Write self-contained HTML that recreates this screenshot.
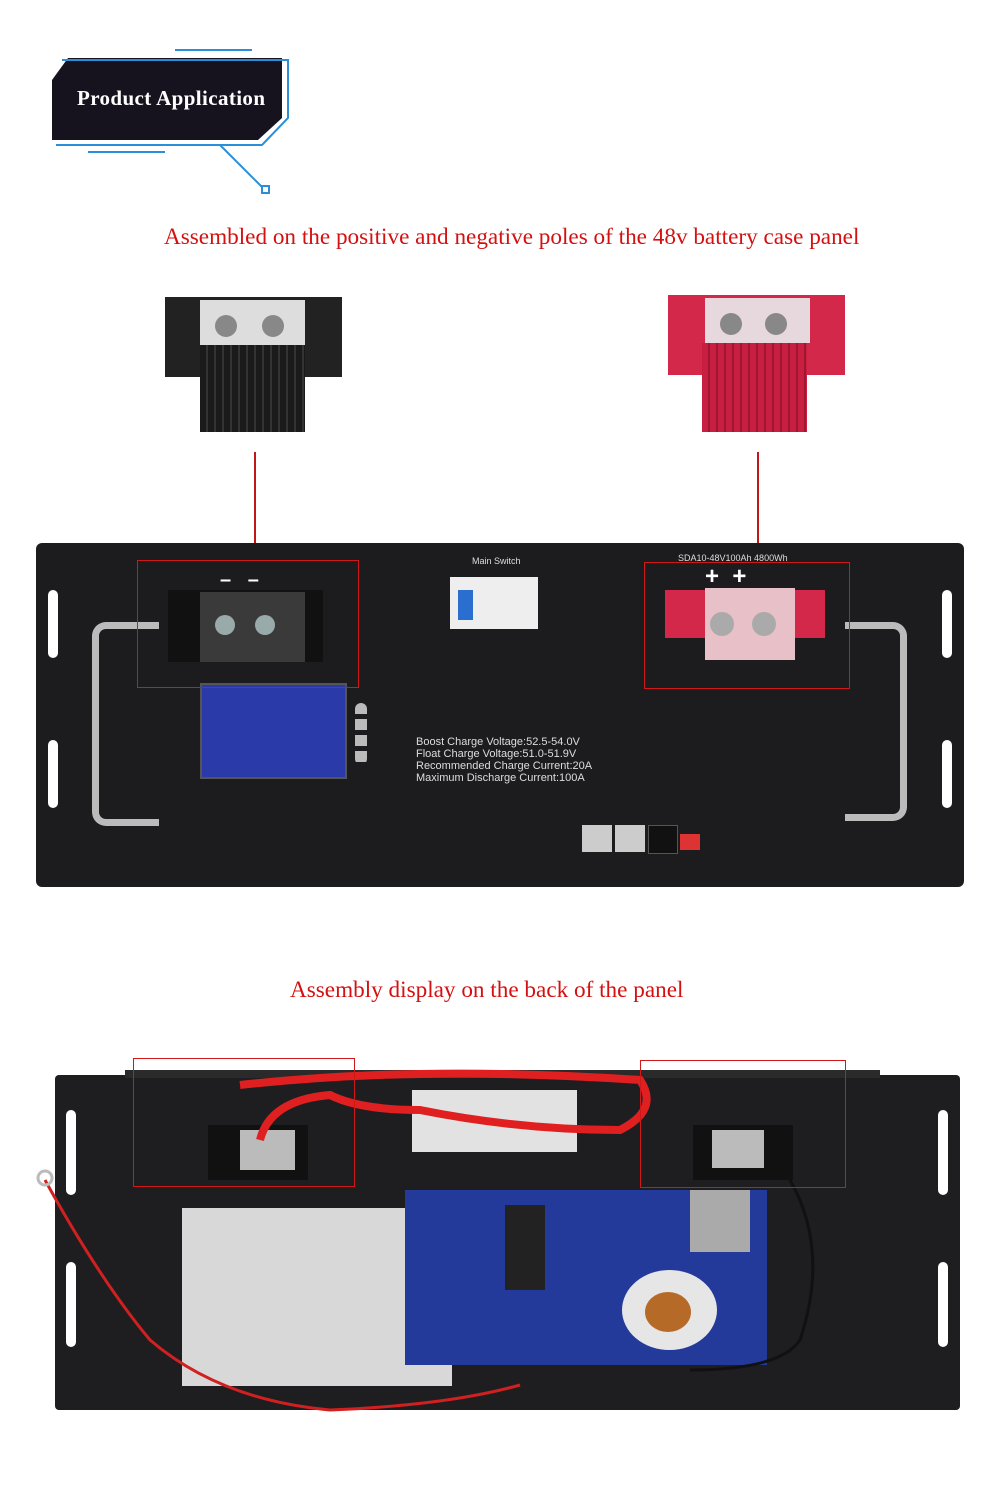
<!DOCTYPE html>
<html><head><meta charset="utf-8"><style>
body{margin:0;width:1000px;height:1500px;background:#fff;position:relative;overflow:hidden;font-family:"Liberation Serif",serif}
.a{position:absolute}
.t{color:#d41010;font-size:23.2px;white-space:nowrap}
.rr{position:absolute;border:1.5px solid #d01818}
.hole{position:absolute;width:9px;height:9px;border-radius:50%;background:#fff}
.slot{position:absolute;width:10px;height:68px;border-radius:5px;background:#fff}
</style></head><body>
<svg class="a" style="left:0;top:0" width="320" height="200">
<polygon points="68,58 282,58 282,118 258,140 52,140 52,80" fill="#16131f"/>
<polyline points="62,60 278,60 288,60 288,118 262,145 56,145" fill="none" stroke="#2a8fd8" stroke-width="2"/>
<line x1="175" y1="50" x2="252" y2="50" stroke="#2a8fd8" stroke-width="2"/>
<line x1="88" y1="152" x2="165" y2="152" stroke="#2a8fd8" stroke-width="2"/>
<polyline points="220,145 262,187" fill="none" stroke="#2a8fd8" stroke-width="2"/>
<rect x="262" y="186" width="7" height="7" fill="none" stroke="#2a8fd8" stroke-width="2"/>
<text x="77" y="105" fill="#fff" font-family="Liberation Serif" font-size="21" font-weight="bold" textLength="188">Product Application</text>
</svg>
<div class="a t" style="left:164px;top:224px">Assembled on the positive and negative poles of the 48v battery case panel</div>

<!-- black terminal -->
<div class="a" style="left:165px;top:297px;width:177px;height:80px;background:#222"></div>
<div class="a" style="left:200px;top:300px;width:105px;height:45px;background:#ddd"></div>
<div class="a" style="left:215px;top:315px;width:22px;height:22px;border-radius:50%;background:#888"></div>
<div class="a" style="left:262px;top:315px;width:22px;height:22px;border-radius:50%;background:#888"></div>
<div class="a" style="left:200px;top:345px;width:105px;height:87px;background:repeating-linear-gradient(90deg,#1a1a1a 0 6px,#333 6px 8px)"></div>
<!-- red terminal -->
<div class="a" style="left:668px;top:295px;width:177px;height:80px;background:#d3284a"></div>
<div class="a" style="left:705px;top:298px;width:105px;height:45px;background:#e6d8dc"></div>
<div class="a" style="left:720px;top:313px;width:22px;height:22px;border-radius:50%;background:#888"></div>
<div class="a" style="left:765px;top:313px;width:22px;height:22px;border-radius:50%;background:#888"></div>
<div class="a" style="left:702px;top:343px;width:105px;height:89px;background:repeating-linear-gradient(90deg,#c81e40 0 6px,#a01530 6px 8px)"></div>

<div class="a" style="left:254px;top:452px;width:1.5px;height:110px;background:#c01818"></div>
<div class="a" style="left:757px;top:452px;width:1.5px;height:112px;background:#c01818"></div>

<!-- front panel -->
<div class="a" style="left:36px;top:543px;width:928px;height:344px;background:#1c1c1e;border-radius:6px"></div>
<div class="slot" style="left:48px;top:590px"></div><div class="slot" style="left:48px;top:740px"></div>
<div class="slot" style="left:942px;top:590px"></div><div class="slot" style="left:942px;top:740px"></div>
<div class="a" style="left:92px;top:622px;width:60px;height:190px;border:7px solid #bbb;border-right:none;border-radius:14px 0 0 14px"></div>
<div class="a" style="left:845px;top:622px;width:55px;height:185px;border:7px solid #bbb;border-left:none;border-radius:0 14px 14px 0"></div>
<div class="a" style="left:168px;top:590px;width:155px;height:72px;background:#111"></div>
<div class="a" style="left:200px;top:592px;width:105px;height:70px;background:#3a3a3a"></div>
<div class="a" style="left:215px;top:615px;width:20px;height:20px;border-radius:50%;background:#9aa"></div>
<div class="a" style="left:255px;top:615px;width:20px;height:20px;border-radius:50%;background:#9aa"></div>
<div class="a" style="left:200px;top:683px;width:143px;height:92px;background:#2a3aa8;border:2px solid #555"></div>
<div class="a" style="left:355px;top:703px;width:12px;height:62px;background:repeating-linear-gradient(#bbb 0 11px,#1c1c1e 11px 16px);border-radius:6px"></div>
<div class="a" style="left:450px;top:577px;width:88px;height:52px;background:#eee"></div>
<div class="a" style="left:458px;top:590px;width:15px;height:30px;background:#2a6fd0"></div>
<div class="a" style="left:665px;top:590px;width:160px;height:48px;background:#d3284a"></div>
<div class="a" style="left:705px;top:588px;width:90px;height:72px;background:#e8c0c8"></div>
<div class="a" style="left:710px;top:612px;width:24px;height:24px;border-radius:50%;background:#aaa"></div>
<div class="a" style="left:752px;top:612px;width:24px;height:24px;border-radius:50%;background:#aaa"></div>
<div class="a" style="left:472px;top:556px;color:#ddd;font:9px 'Liberation Sans',sans-serif">Main Switch</div>
<div class="a" style="left:678px;top:553px;color:#ddd;font:9px 'Liberation Sans',sans-serif">SDA10-48V100Ah 4800Wh</div>
<div class="a" style="left:705px;top:563px;color:#fff;font:bold 24px 'Liberation Sans',sans-serif">+&nbsp;&nbsp;+</div>
<div class="a" style="left:220px;top:569px;color:#fff;font:bold 20px 'Liberation Sans',sans-serif">–&nbsp;&nbsp;&nbsp;–</div>
<div class="a" style="left:416px;top:736px;color:#ddd;font:11px/12px 'Liberation Sans',sans-serif">Boost Charge Voltage:52.5-54.0V<br>Float Charge Voltage:51.0-51.9V<br>Recommended Charge Current:20A<br>Maximum Discharge Current:100A</div>
<div class="a" style="left:582px;top:825px;width:30px;height:27px;background:#ccc"></div>
<div class="a" style="left:615px;top:825px;width:30px;height:27px;background:#ccc"></div>
<div class="a" style="left:648px;top:825px;width:28px;height:27px;background:#111;border:1px solid #555"></div>
<div class="a" style="left:680px;top:834px;width:20px;height:16px;background:#d33"></div>
<div class="rr" style="left:137px;top:560px;width:220px;height:126px"></div>
<div class="rr" style="left:644px;top:562px;width:204px;height:125px"></div>

<div class="a t" style="left:290px;top:977px">Assembly display on the back of the panel</div>

<!-- back panel -->
<div class="a" style="left:55px;top:1075px;width:905px;height:335px;background:#1e1e20;border-radius:4px"></div>
<div class="a" style="left:125px;top:1070px;width:755px;height:8px;background:#2a2a2a"></div>
<div class="slot" style="left:66px;top:1110px;height:85px"></div><div class="slot" style="left:66px;top:1262px;height:85px"></div>
<div class="slot" style="left:938px;top:1110px;height:85px"></div><div class="slot" style="left:938px;top:1262px;height:85px"></div>
<div class="a" style="left:208px;top:1125px;width:100px;height:55px;background:#111"></div>
<div class="a" style="left:240px;top:1130px;width:55px;height:40px;background:#bbb"></div>
<div class="a" style="left:693px;top:1125px;width:100px;height:55px;background:#111"></div>
<div class="a" style="left:712px;top:1130px;width:52px;height:38px;background:#bbb"></div>
<div class="a" style="left:412px;top:1090px;width:165px;height:62px;background:#e2e2e2"></div>
<div class="a" style="left:182px;top:1208px;width:270px;height:178px;background:#d8d8d8"></div>
<div class="a" style="left:405px;top:1190px;width:362px;height:175px;background:#233a9a"></div>
<div class="a" style="left:622px;top:1270px;width:95px;height:80px;border-radius:50%;background:#e6e6e6"></div>
<div class="a" style="left:645px;top:1292px;width:46px;height:40px;border-radius:50%;background:#b66a28"></div>
<div class="a" style="left:690px;top:1190px;width:60px;height:62px;background:#aaa"></div>
<div class="a" style="left:505px;top:1205px;width:40px;height:85px;background:#222"></div>
<svg class="a" style="left:0;top:1050px" width="1000" height="380">
<path d="M240 35 Q420 15 640 30 Q660 60 620 80 Q520 80 420 60 Q360 60 330 45 Q270 50 260 90" fill="none" stroke="#e02020" stroke-width="8"/>
<path d="M45 130 Q100 230 150 290 Q220 350 330 360 Q450 355 520 335" fill="none" stroke="#d02020" stroke-width="3"/>
<path d="M790 130 Q830 200 800 290 Q780 320 690 320" fill="none" stroke="#111" stroke-width="3"/>
<circle cx="45" cy="128" r="7" fill="none" stroke="#bbb" stroke-width="3"/>
</svg>
<div class="rr" style="left:133px;top:1058px;width:220px;height:127px"></div>
<div class="rr" style="left:640px;top:1060px;width:204px;height:126px"></div>
</body></html>
